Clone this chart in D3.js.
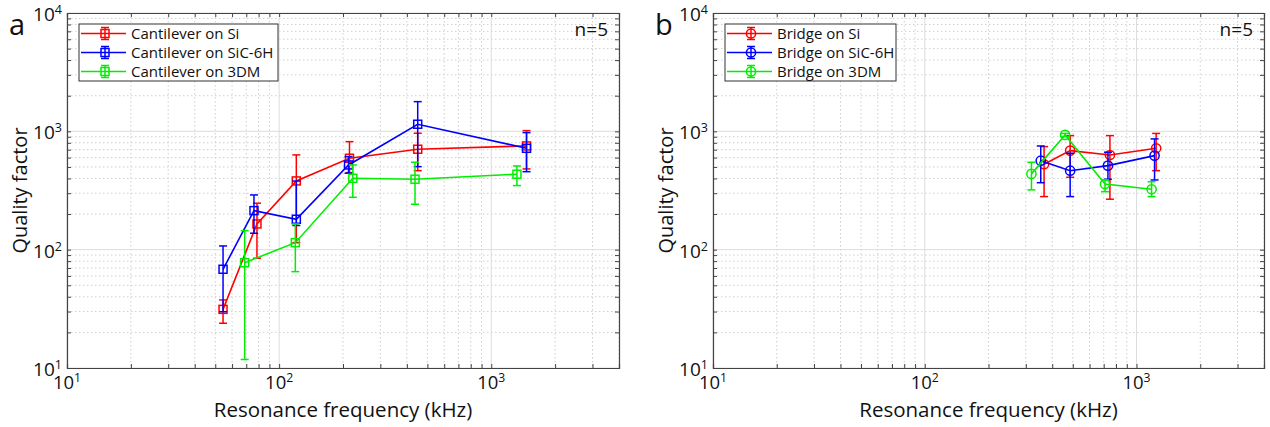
<!DOCTYPE html>
<html>
<head>
<meta charset="utf-8">
<script src="https://cdn.jsdelivr.net/npm/d3@7"></script>
<style>
  html, body { margin: 0; padding: 0; background: #fff; }
  svg text { font-family: "Open Sans", Lato, sans-serif; fill: #111; }
</style>
</head>
<body>
<svg id="chart" width="1270" height="427"></svg>
<script>
// ---- Panel a: cantilevers ----
const cantSiFreq   = [54.4, 78.6, 120.5, 214.6, 450, 1466];
const cantSiQ      = [31.3, 165, 381, 592, 706, 753];
const cantSiHi     = [37.6, 247, 632, 818, 964, 1014];
const cantSiLo     = [23.9, 84.6, 114.6, 448, 465, 481];

const cantSiCFreq  = [54.4, 76.1, 120.5, 212.4, 450, 1466];
const cantSiCQ     = [68.3, 213.7, 180.7, 520, 1148, 719];
const cantSiCHi    = [107.5, 290, 380, 611, 1782, 975];
const cantSiCLo    = [29.9, 137.6, 160, 443, 503, 456];

const cant3DMFreq  = [68.8, 119.2, 222.5, 437, 1321];
const cant3DMQ     = [77.6, 114.6, 401, 394, 434];
const cant3DMHi    = [144.8, 165, 520, 548, 510];
const cant3DMLo    = [11.8, 65.2, 277, 242, 348];

// ---- Panel b: bridges ----
const bridgeSiFreq  = [366, 486, 749, 1238];
const bridgeSiQ     = [527, 687, 631, 719];
const bridgeSiHi    = [743, 920, 920, 960];
const bridgeSiLo    = [281, 409, 267, 465];

const bridgeSiCFreq = [353, 486, 733, 1217];
const bridgeSiCQ    = [565, 465, 513, 623];
const bridgeSiCHi   = [752, 653, 666, 863];
const bridgeSiCLo   = [368, 281, 394, 388];

const bridge3DMFreq = [319, 460, 710, 1178];
const bridge3DMQ    = [437, 933, 359, 324];
const bridge3DMHi   = [548, 960, 388, 375];
const bridge3DMLo   = [320, 905, 309, 281];

// Axis ranges and tick decades
const xDomain = [10, 4000];
const yDomain = [10, 10000];
const xDecades = [1, 2, 3];
const yDecades = [1, 2, 3, 4];

const seriesColors = ["#ff0000", "#0000ff", "#00ee00"];

const panels = [
  {
    letter: "a", left: 67, right: 619, marker: "square",
    legendW: 199,
    series: [
      { name: "Cantilever on Si",     f: cantSiFreq,  q: cantSiQ,  hi: cantSiHi,  lo: cantSiLo },
      { name: "Cantilever on SiC-6H", f: cantSiCFreq, q: cantSiCQ, hi: cantSiCHi, lo: cantSiCLo },
      { name: "Cantilever on 3DM",    f: cant3DMFreq, q: cant3DMQ, hi: cant3DMHi, lo: cant3DMLo }
    ]
  },
  {
    letter: "b", left: 713, right: 1264, marker: "circle",
    legendW: 171,
    series: [
      { name: "Bridge on Si",     f: bridgeSiFreq,  q: bridgeSiQ,  hi: bridgeSiHi,  lo: bridgeSiLo },
      { name: "Bridge on SiC-6H", f: bridgeSiCFreq, q: bridgeSiCQ, hi: bridgeSiCHi, lo: bridgeSiCLo },
      { name: "Bridge on 3DM",    f: bridge3DMFreq, q: bridge3DMQ, hi: bridge3DMHi, lo: bridge3DMLo }
    ]
  }
];

const plotTop = 13, plotBottom = 368;
const svg = d3.select("#chart");

function drawMarker(g, type, cx, cy, color) {
  if (type === "square") {
    g.append("rect").attr("x", cx - 4).attr("y", cy - 4).attr("width", 8).attr("height", 8)
      .attr("fill", "none").attr("stroke", color).attr("stroke-width", 1.5);
  } else {
    g.append("circle").attr("cx", cx).attr("cy", cy).attr("r", 4.6)
      .attr("fill", "none").attr("stroke", color).attr("stroke-width", 1.5);
  }
}

function errorBar(g, cx, yHi, yLo, color) {
  g.append("line").attr("x1", cx).attr("x2", cx).attr("y1", yHi).attr("y2", yLo)
    .attr("stroke", color).attr("stroke-width", 1.5);
  [yHi, yLo].forEach(yy => g.append("line").attr("x1", cx - 4).attr("x2", cx + 4)
    .attr("y1", yy).attr("y2", yy).attr("stroke", color).attr("stroke-width", 1.5));
}

function powLabel(sel, exp, anchor, size) {
  sel.attr("text-anchor", anchor).style("font-size", size + "px");
  sel.append("tspan").text("10");
  sel.append("tspan").attr("dy", "-0.55em").style("font-size", (size * 0.66) + "px").text(exp);
}

panels.forEach(p => {
  const x = d3.scaleLog().domain(xDomain).range([p.left, p.right]);
  const y = d3.scaleLog().domain(yDomain).range([plotBottom, plotTop]);
  const g = svg.append("g");

  // minor and major ticks (2..9 within each decade)
  const xMinor = [], yMinor = [];
  for (let e = 1; e <= 3; e++) for (let m = 2; m <= 9; m++) {
    const v = m * Math.pow(10, e);
    if (v <= xDomain[1]) xMinor.push(v);
    yMinor.push(v);
  }
  const xMajor = xDecades.map(e => Math.pow(10, e));
  const yMajor = yDecades.map(e => Math.pow(10, e));

  // grid
  const grid = g.append("g");
  grid.selectAll(".gxm").data(xMinor).join("line")
    .attr("x1", d => x(d)).attr("x2", d => x(d)).attr("y1", plotTop).attr("y2", plotBottom)
    .attr("stroke", "#cfcfcf").attr("stroke-width", 1).attr("stroke-dasharray", "1.5,2.5");
  grid.selectAll(".gym").data(yMinor).join("line")
    .attr("x1", p.left).attr("x2", p.right).attr("y1", d => y(d)).attr("y2", d => y(d))
    .attr("stroke", "#cfcfcf").attr("stroke-width", 1).attr("stroke-dasharray", "1.5,2.5");
  grid.selectAll(".gxM").data(xMajor).join("line")
    .attr("x1", d => x(d)).attr("x2", d => x(d)).attr("y1", plotTop).attr("y2", plotBottom)
    .attr("stroke", "#dcdcdc").attr("stroke-width", 1);
  grid.selectAll(".gyM").data(yMajor).join("line")
    .attr("x1", p.left).attr("x2", p.right).attr("y1", d => y(d)).attr("y2", d => y(d))
    .attr("stroke", "#dcdcdc").attr("stroke-width", 1);

  // axes through d3-axis with inward ticks, tick labels drawn separately
  const axColor = "#444";
  const axB = g.append("g").attr("transform", `translate(0,${plotBottom})`)
    .call(d3.axisBottom(x).tickValues(xMajor.concat(xMinor)).tickSize(-4).tickFormat(""));
  const axT = g.append("g").attr("transform", `translate(0,${plotTop})`)
    .call(d3.axisTop(x).tickValues(xMajor.concat(xMinor)).tickSize(-4).tickFormat(""));
  const axL = g.append("g").attr("transform", `translate(${p.left},0)`)
    .call(d3.axisLeft(y).tickValues(yMajor.concat(yMinor)).tickSize(-4).tickFormat(""));
  const axR = g.append("g").attr("transform", `translate(${p.right},0)`)
    .call(d3.axisRight(y).tickValues(yMajor.concat(yMinor)).tickSize(-4).tickFormat(""));
  [axB, axT, axL, axR].forEach(a => {
    a.select(".domain").attr("stroke", axColor).attr("stroke-width", 1.2);
    a.selectAll(".tick line").attr("stroke", axColor);
  });

  // tick labels
  xDecades.forEach(e => {
    const t = g.append("text").attr("x", x(Math.pow(10, e))).attr("y", plotBottom + 21);
    powLabel(t, e, "middle", 18.5);
  });
  yDecades.forEach(e => {
    const t = g.append("text").attr("x", p.left - 5).attr("y", y(Math.pow(10, e)) + 8);
    powLabel(t, e, "end", 19);
  });

  // axis titles
  g.append("text").attr("x", (p.left + p.right) / 2).attr("y", plotBottom + 49)
    .attr("text-anchor", "middle").style("font-size", "20.5px").text("Resonance frequency (kHz)");
  g.append("text").attr("transform", `translate(${p.left - 40},${(plotTop + plotBottom) / 2}) rotate(-90)`)
    .attr("text-anchor", "middle").style("font-size", "20px").text("Quality factor");

  // panel letter
  g.append("text").attr("x", p.left - 58).attr("y", 35).style("font-size", "29px").text(p.letter);

  // n label
  g.append("text").attr("x", p.right - 11).attr("y", 36).attr("text-anchor", "end")
    .style("font-size", "19px").text("n=5");

  // series
  p.series.forEach((s, i) => {
    const color = seriesColors[i];
    const sg = g.append("g");
    const pts = s.f.map((f, k) => [x(f), y(s.q[k])]);
    sg.append("path").attr("d", d3.line()(pts)).attr("fill", "none")
      .attr("stroke", color).attr("stroke-width", 1.6);
    s.f.forEach((f, k) => errorBar(sg, x(f), y(s.hi[k]), y(s.lo[k]), color));
    pts.forEach(pt => drawMarker(sg, p.marker, pt[0], pt[1], color));
  });

  // legend
  const lx = p.left + 12, ly = 24;
  const lg = g.append("g");
  lg.append("rect").attr("x", lx).attr("y", ly).attr("width", p.legendW).attr("height", 57)
    .attr("fill", "#fff").attr("stroke", "#333").attr("stroke-width", 1);
  p.series.forEach((s, i) => {
    const color = seriesColors[i];
    const yy = ly + 9.5 + i * 19;
    lg.append("line").attr("x1", lx + 2).attr("x2", lx + 47).attr("y1", yy).attr("y2", yy)
      .attr("stroke", color).attr("stroke-width", 1.6);
    errorBar(lg, lx + 26, yy - 6, yy + 6, color);
    drawMarker(lg, p.marker, lx + 26, yy, color);
    lg.append("text").attr("x", lx + 52).attr("y", yy + 5).style("font-size", "15px").text(s.name);
  });
});
</script>
</body>
</html>
